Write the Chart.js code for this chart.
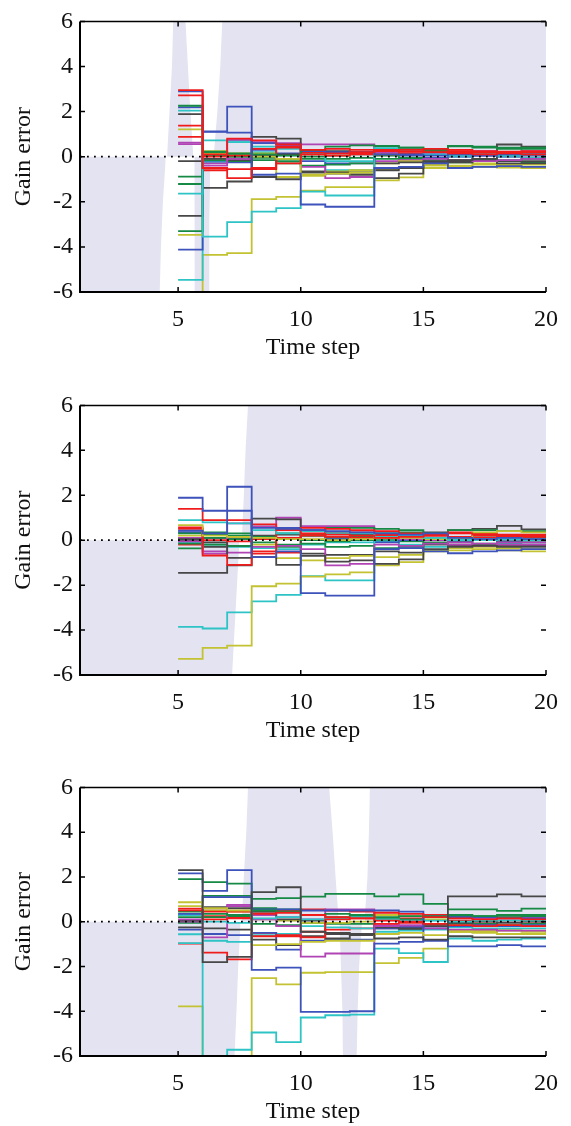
<!DOCTYPE html>
<html>
<head>
<meta charset="utf-8">
<script src="https://cdn.jsdelivr.net/npm/chart.js@4.4.1/dist/chart.umd.min.js"></script>
<style>
html,body{margin:0;padding:0;background:#fff;}
body{width:571px;height:1126px;position:relative;overflow:hidden;}
.panel{position:absolute;left:0;width:571px;}
</style>
</head>
<body>
<div class="panel" style="top:0;height:380px"><canvas id="c1"></canvas></div>
<div class="panel" style="top:384px;height:380px"><canvas id="c2"></canvas></div>
<div class="panel" style="top:766px;height:360px"><canvas id="c3"></canvas></div>
<script>
// ---------- data ----------
const timeSteps = [5,6,7,8,9,10,11,12,13,14,15,16,17,18,19,20];
const xTicks = [5,10,15,20];
const yTicks = [-6,-4,-2,0,2,4,6];
const xRange = [1,20];
const yRange = [-6,6];
const zeroLevel = 0;
const xTitle = 'Time step';
const yTitle = 'Gain error';

// panel 1 : series colours and values at time steps 5..20
const colorsA = ['red','red','blue','green','blue','cyan','gray','red','yellow','red','magenta','magenta','gray','green','green','cyan','gray','green','yellow','blue','cyan','yellow'];
const seriesA = [
  [2.95,0.00,0.80,0.72,0.55,0.30,0.35,0.30,0.28,0.22,0.35,0.30,0.25,0.22,0.25,0.22],
  [2.72,-0.50,-0.95,-0.50,-0.30,0.10,0.15,0.20,0.25,0.30,0.20,0.15,0.10,0.15,0.10,0.10],
  [2.90,1.12,2.22,-0.80,-0.75,-2.12,-2.22,-2.22,-0.50,-0.45,-0.30,-0.50,-0.45,-0.42,-0.45,-0.45],
  [2.26,0.20,0.15,0.10,0.05,0.30,0.45,0.50,0.48,0.40,0.30,0.46,0.40,0.35,0.40,0.40],
  [2.19,1.10,1.07,0.60,0.55,0.25,0.20,0.20,0.10,0.10,0.05,0.10,0.05,0.10,0.10,0.10],
  [2.04,-3.54,-2.90,-2.44,-2.28,-1.55,-1.72,-1.72,0.38,0.32,0.10,0.05,0.10,0.05,0.10,0.05],
  [1.89,-1.38,-1.10,0.88,0.80,0.30,0.25,0.20,-0.30,-0.25,-0.20,-0.15,-0.10,0.54,0.45,0.45],
  [1.38,0.10,0.05,0.35,0.45,0.20,0.15,0.15,0.30,0.35,0.28,0.20,0.15,0.20,0.20,0.20],
  [1.21,0.15,0.15,0.00,-0.10,-0.80,-0.75,-0.70,-0.30,-0.20,-0.35,-0.40,-0.45,-0.48,-0.50,-0.50],
  [0.88,-0.60,-0.55,-0.55,0.40,0.10,0.05,0.10,0.10,0.15,0.30,0.25,0.20,0.15,0.10,0.10],
  [0.62,-0.40,0.75,0.70,0.60,0.55,0.55,0.55,0.20,0.25,0.15,0.20,0.25,0.20,0.25,0.25],
  [0.56,-0.30,-0.10,0.62,0.50,-0.45,-0.95,-0.90,-0.20,-0.15,-0.10,-0.15,-0.20,-0.15,-0.10,-0.10],
  [-0.20,-0.10,-0.15,-0.90,-1.00,-0.65,-0.75,-0.80,-0.95,-0.75,-0.30,-0.25,-0.20,-0.30,-0.30,-0.30],
  [-0.88,0.05,0.00,-0.05,-0.30,-0.40,-0.35,-0.30,-0.10,-0.05,-0.20,-0.15,-0.10,-0.15,-0.10,-0.10],
  [-1.21,-0.15,-0.20,-0.15,-0.10,0.00,0.05,0.10,0.46,0.40,0.25,0.48,0.45,0.40,0.35,0.35],
  [-1.64,-0.25,0.70,0.45,0.35,0.25,-0.20,-0.20,0.30,0.30,0.10,0.05,0.10,0.05,0.10,0.05],
  [-2.62,0.05,0.00,0.05,0.10,-0.70,-0.70,-0.70,-0.60,-0.50,-0.25,-0.20,-0.15,-0.20,-0.20,-0.20],
  [-3.30,0.22,0.10,0.05,-0.20,-0.10,-0.10,-0.05,0.05,-0.10,-0.10,-0.25,-0.20,-0.20,-0.25,-0.25],
  [-3.47,0.25,0.10,0.15,-0.90,-0.85,-0.65,-0.60,-0.55,-0.50,-0.40,-0.25,-0.30,-0.35,-0.35,-0.35],
  [-4.12,-0.20,-0.25,0.30,0.15,-0.20,-0.30,-0.30,0.10,0.05,-0.05,0.00,0.05,0.00,0.05,0.05],
  [-5.46,0.72,0.65,0.20,0.10,0.15,-0.60,-0.60,0.30,0.25,0.15,0.00,-0.10,0.00,-0.05,-0.05],
  [-7.00,-4.35,-4.28,-1.88,-1.78,-1.50,-1.35,-1.35,-1.05,-0.92,-0.50,-0.45,-0.35,-0.40,-0.45,-0.45]
];

// panel 2
const colorsB = ['blue','blue','red','cyan','yellow','red','red','green','gray','gray','magenta','magenta','green','green','yellow','cyan','yellow','gray','blue','cyan','red','green'];
const seriesB = [
  [1.89,1.31,2.38,0.55,0.50,0.45,0.40,0.35,0.30,0.25,0.30,0.10,0.05,0.10,0.05,0.05],
  [0.43,0.30,1.31,-0.75,-0.50,-2.36,-2.47,-2.47,-0.40,-0.35,-0.50,-0.58,-0.50,-0.45,-0.40,-0.40],
  [1.39,0.89,0.89,0.70,0.45,0.30,0.25,0.20,0.10,0.15,0.20,0.30,0.25,0.20,0.20,0.20],
  [0.89,0.79,0.75,0.45,0.30,0.40,0.30,0.30,0.15,0.20,0.10,0.00,0.05,0.10,0.05,0.05],
  [0.67,0.20,0.15,0.10,0.05,0.05,0.00,0.05,0.10,0.10,0.05,0.10,0.35,0.40,0.35,0.35],
  [0.57,-0.68,-1.10,-0.50,0.45,0.20,0.15,0.10,0.25,0.20,0.25,0.15,0.20,0.15,0.15,0.15],
  [0.50,0.00,-0.05,0.05,0.10,0.55,0.50,0.45,0.40,0.30,0.20,0.35,0.30,0.25,0.25,0.25],
  [0.30,0.25,0.20,0.15,0.30,0.20,0.55,0.55,0.50,0.45,0.30,0.45,0.45,0.40,0.40,0.40],
  [-1.45,-1.45,-1.12,0.96,0.93,0.40,0.30,0.25,0.15,0.20,0.35,0.45,0.50,0.64,0.48,0.48],
  [0.05,-0.10,-0.79,-0.75,-1.10,-0.70,-0.95,-0.90,-1.05,-0.85,-0.40,-0.30,-0.25,-0.30,-0.30,-0.30],
  [0.10,-0.60,0.75,0.60,1.00,0.62,0.62,0.62,0.10,0.05,0.00,-0.10,-0.15,-0.10,-0.10,-0.10],
  [-0.05,-0.50,-0.55,-0.30,-0.25,-0.40,-1.12,-1.05,-0.20,-0.25,-0.15,-0.20,-0.25,-0.20,-0.20,-0.20],
  [-0.15,0.10,0.05,-0.10,-0.20,-0.15,-0.30,-0.25,-0.35,-0.30,-0.15,-0.10,-0.15,-0.10,-0.10,-0.10],
  [-0.36,-0.20,-0.25,0.05,0.10,0.00,-0.05,0.00,0.30,0.35,0.25,0.15,0.20,0.15,0.15,0.15],
  [-5.28,-4.79,-4.69,-2.05,-1.93,-1.62,-1.52,-1.43,-1.12,-0.98,-0.50,-0.45,-0.40,-0.45,-0.50,-0.50],
  [-3.86,-3.93,-3.21,-2.72,-2.43,-1.60,-1.79,-1.79,0.30,0.25,0.10,0.05,0.00,0.05,0.00,0.00],
  [0.20,0.25,0.15,-0.20,-0.80,-0.90,-0.80,-0.70,-0.75,-0.65,-0.45,-0.35,-0.30,-0.35,-0.40,-0.40],
  [0.00,-0.30,-0.25,0.20,0.25,-0.60,-0.65,-0.65,-0.50,-0.55,-0.20,-0.25,-0.20,-0.25,-0.25,-0.25],
  [0.36,0.10,0.05,0.60,0.55,0.45,0.05,0.05,-0.10,0.00,0.05,-0.05,0.00,-0.05,0.00,0.00],
  [-0.10,-0.20,-0.30,-0.35,-0.40,-0.20,-0.10,-0.10,-0.05,-0.20,-0.30,-0.25,-0.20,-0.15,-0.10,-0.10],
  [-0.20,0.10,0.10,-0.60,-0.55,0.25,0.30,0.35,0.20,0.15,0.10,0.05,0.10,0.15,0.10,0.10],
  [0.10,0.35,0.30,0.10,-0.30,0.20,0.10,0.15,0.00,-0.05,-0.10,-0.05,0.00,-0.05,0.00,0.00]
];

// panel 3
const colorsC = ['gray','blue','green','yellow','red','red','green','blue','cyan','magenta','gray','blue','cyan','cyan','red','yellow','green','gray','magenta','yellow','green','red'];
const seriesC = [
  [2.30,-1.81,-1.57,1.32,1.54,-0.45,-0.50,-0.55,-0.75,-0.70,-0.80,1.13,1.13,1.22,1.13,1.13],
  [2.16,1.38,2.30,-2.15,-2.05,-4.03,-4.03,-4.00,-0.98,-0.90,-0.82,-1.10,-1.10,-1.05,-1.10,-1.10],
  [1.90,1.77,1.70,1.02,1.05,1.12,1.24,1.24,1.13,1.22,0.80,0.55,0.55,0.48,0.58,0.58],
  [0.87,0.60,0.50,-1.05,-1.00,-0.90,-0.85,-0.85,-0.55,-0.50,-0.60,-0.45,-0.50,-0.55,-0.55,-0.55],
  [0.58,0.45,0.45,0.35,0.40,0.30,0.20,0.15,0.40,0.35,0.20,0.15,0.10,0.15,0.10,0.10],
  [0.51,0.10,0.15,-0.65,-0.60,-0.70,0.10,0.15,0.05,0.00,-0.10,-0.15,-0.20,-0.15,-0.20,-0.20],
  [0.45,0.35,0.30,0.50,0.45,0.30,0.35,0.30,0.20,0.25,0.25,0.30,0.25,0.30,0.30,0.30],
  [0.35,1.10,1.10,0.55,0.55,0.50,0.50,0.50,0.50,0.45,-0.85,0.20,0.20,0.15,0.15,0.15],
  [0.30,0.00,-0.05,0.15,0.20,0.10,0.15,0.20,0.10,0.05,0.05,0.00,0.05,0.05,0.05,0.05],
  [0.10,-0.70,0.70,0.10,-0.20,-1.56,-1.42,-1.42,-0.20,-0.15,-0.30,-0.35,-0.35,-0.40,-0.40,-0.40],
  [-0.25,-0.30,-0.35,-0.80,-1.05,-0.65,-0.75,-0.60,-0.25,-0.30,-0.20,-0.65,-0.70,-0.70,-0.70,-0.70],
  [-0.35,-0.55,-0.60,-0.50,-1.25,-0.85,-0.80,-0.80,-0.30,-0.25,-0.30,-0.20,-0.15,-0.20,-0.15,-0.15],
  [-0.56,-0.85,-0.90,-0.60,-0.55,-0.20,-0.25,-0.30,-0.45,-0.40,-0.35,-0.25,-0.30,-0.30,-0.30,-0.30],
  [-0.96,-7.00,-5.72,-4.95,-5.38,-4.28,-4.18,-4.15,-1.20,-1.40,-1.80,-0.75,-0.85,-0.80,-0.75,-0.75],
  [-0.98,-1.38,-1.68,-0.50,-0.65,-0.45,-0.35,-0.30,-0.10,-0.05,-0.20,-0.20,-0.15,-0.20,-0.20,-0.20],
  [-3.78,-7.00,-7.00,-2.52,-2.80,-2.28,-2.25,-2.25,-1.85,-1.62,-1.20,-0.45,-0.40,-0.38,-0.45,-0.50],
  [0.20,1.15,1.15,0.60,0.55,0.30,0.20,0.25,0.15,0.10,0.20,0.25,0.25,0.20,0.25,0.25],
  [0.05,0.65,0.60,0.45,0.10,0.05,-0.55,-0.60,-0.30,-0.35,-0.10,-0.05,0.00,-0.05,0.00,0.00],
  [0.00,0.60,0.75,0.30,0.20,0.10,0.55,0.55,-0.15,-0.20,0.25,0.20,0.15,0.20,0.20,0.20],
  [0.70,0.50,0.45,0.10,0.05,-0.05,-0.05,0.00,0.30,0.25,0.10,-0.40,-0.45,-0.40,-0.40,-0.40],
  [-0.05,0.20,0.25,-0.10,-0.15,-0.05,-0.10,-0.10,-0.20,-0.20,-0.10,-0.10,-0.10,-0.15,-0.10,-0.10],
  [0.30,0.25,0.20,0.45,0.50,0.55,0.50,0.45,0.10,0.15,0.30,0.05,0.00,0.05,0.00,0.00]
];

// shaded regions (boundary points in data units, filled to the zero line)
const shadeA = [
  [[1,-6],[4.25,-6],[4.3,-4],[4.38,-2],[4.5,0]],
  [[4.55,0],[4.65,2],[4.75,4],[4.8,6],[5.3,6],[5.4,4],[5.5,2],[5.62,0]],
  [[5.66,0],[5.66,-3],[5.68,-6],[6.27,-6],[6.27,-3],[6.32,0]],
  [[6.45,0],[6.6,2],[6.72,4],[6.8,6],[20,6],[20,0]]
];
const shadeB = [
  [[1,-6],[7.2,-6],[7.3,-4],[7.4,-2],[7.5,0]],
  [[7.6,0],[7.68,2],[7.75,4],[7.85,6],[20,6],[20,0]]
];
const shadeC = [
  [[1,-6],[7.3,-6],[7.38,-4],[7.45,-2],[7.55,0]],
  [[7.6,0],[7.68,2],[7.78,4],[7.85,6],[11.16,6],[11.3,4],[11.42,2],[11.55,0]],
  [[11.58,0],[11.64,-2],[11.7,-4],[11.72,-6],[12.28,-6],[12.32,-4],[12.38,-2],[12.5,0]],
  [[12.6,0],[12.72,2],[12.78,4],[12.82,6],[20,6],[20,0]]
];

// ---------- styling ----------
const lineColor = {
  blue:'#3d52ba', green:'#168a44', red:'#f01c1c', cyan:'#2ec4c6',
  magenta:'#b044b4', yellow:'#c2c232', gray:'#474747'
};
const shadeColor = '#e3e3f1';
const FONT = 'Liberation Serif, Times New Roman, serif';
const FSIZE = 24;

const frameTicks = {
  id: 'frameTicks',
  afterDatasetsDraw(chart) {
    const {ctx, chartArea: a, scales: {x, y}} = chart;
    ctx.save();
    ctx.strokeStyle = '#000';
    ctx.lineCap = 'butt';
    ctx.lineWidth = 2;
    ctx.beginPath();
    ctx.moveTo(a.left, a.top); ctx.lineTo(a.left, a.bottom); ctx.lineTo(a.right, a.bottom);
    ctx.stroke();
    ctx.lineWidth = 1.5;
    ctx.beginPath();
    ctx.moveTo(a.left, a.top); ctx.lineTo(a.right, a.top);
    ctx.stroke();
    const L = 5;
    ctx.lineWidth = 1.5;
    ctx.beginPath();
    x.ticks.forEach(t => {
      const px = x.getPixelForValue(t.value);
      ctx.moveTo(px, a.bottom); ctx.lineTo(px, a.bottom - L);
      ctx.moveTo(px, a.top); ctx.lineTo(px, a.top + L);
    });
    y.ticks.forEach(t => {
      const py = y.getPixelForValue(t.value);
      ctx.moveTo(a.left, py); ctx.lineTo(a.left + L, py);
      ctx.moveTo(a.right, py); ctx.lineTo(a.right - L, py);
    });
    ctx.stroke();
    ctx.restore();
  }
};

function buildChart(canvasId, colors, series, shades, padBottom) {
  const datasets = [];
  datasets.push({
    data: [{x: xRange[0], y: zeroLevel}, {x: xRange[1], y: zeroLevel}],
    borderColor: '#000', borderWidth: 1.8, borderDash: [1.8, 5.2],
    pointRadius: 0, fill: false, order: -1
  });
  series.forEach((vals, i) => {
    datasets.push({
      data: timeSteps.map((t, k) => ({x: t, y: vals[k]})),
      borderColor: lineColor[colors[i]], borderWidth: 1.8,
      stepped: true, pointRadius: 0, fill: false, order: 0
    });
  });
  shades.forEach(poly => {
    datasets.push({
      data: poly.map(p => ({x: p[0], y: p[1]})),
      borderWidth: 0, borderColor: 'rgba(0,0,0,0)',
      backgroundColor: shadeColor, pointRadius: 0,
      fill: 'origin', order: 10
    });
  });
  return new Chart(document.getElementById(canvasId), {
    type: 'line',
    data: {datasets},
    plugins: [frameTicks],
    options: {
      responsive: true, maintainAspectRatio: false, animation: false,
      layout: {padding: {top: 11, right: 18, left: 0, bottom: padBottom}},
      plugins: {legend: {display: false}, tooltip: {enabled: false}},
      scales: {
        x: {
          type: 'linear', min: xRange[0], max: xRange[1],
          afterBuildTicks: s => { s.ticks = xTicks.map(v => ({value: v})); },
          afterFit: s => { s.height = 70; },
          grid: {display: false, drawTicks: false},
          border: {display: false},
          ticks: {color: '#111', padding: 13, maxRotation: 0, font: {family: FONT, size: FSIZE}},
          title: {display: true, text: xTitle, color: '#111', padding: {top: 0, bottom: 0},
                  font: {family: FONT, size: FSIZE}}
        },
        y: {
          type: 'linear', min: yRange[0], max: yRange[1],
          afterBuildTicks: s => { s.ticks = yTicks.map(v => ({value: v})); },
          afterFit: s => { s.width = 80; },
          grid: {display: false, drawTicks: false},
          border: {display: false},
          ticks: {color: '#111', padding: 7, font: {family: FONT, size: FSIZE}},
          title: {display: true, text: yTitle, color: '#111', padding: {top: 9, bottom: 0},
                  font: {family: FONT, size: FSIZE}}
        }
      }
    }
  });
}

buildChart('c1', colorsA, seriesA, shadeA, 18);
buildChart('c2', colorsB, seriesB, shadeB, 19);
buildChart('c3', colorsC, seriesC, shadeC, 0);
</script>
</body>
</html>
